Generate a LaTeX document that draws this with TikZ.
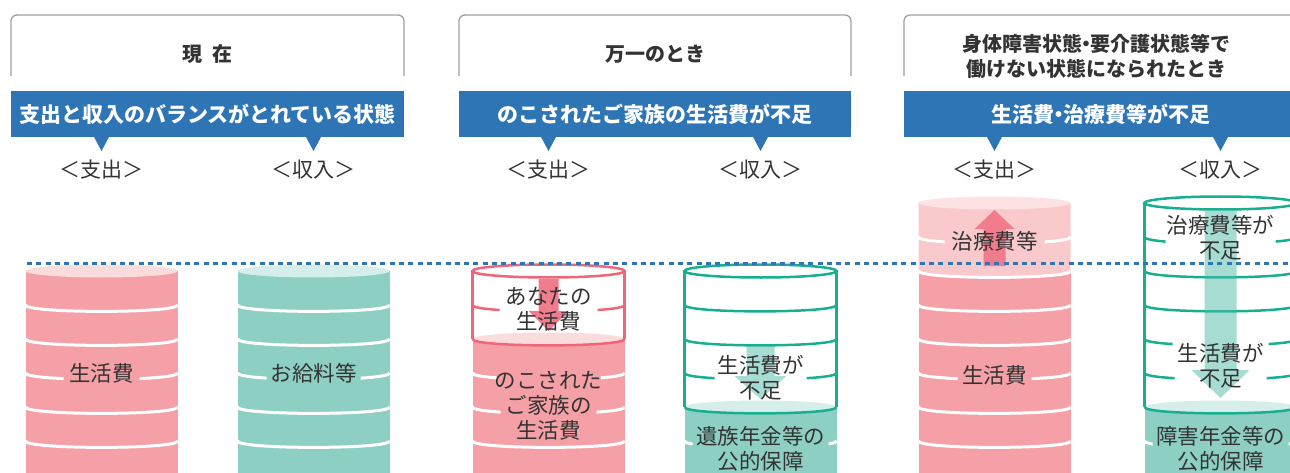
\documentclass[tikz,border=0pt]{standalone}
\usepackage{fontspec}
\setmainfont{Noto Sans CJK JP}
\definecolor{pbody}{HTML}{F5A0A6}
\definecolor{ptop}{HTML}{FADCDD}
\definecolor{plight}{HTML}{F9C9CC}
\definecolor{plighttop}{HTML}{FCE2E3}
\definecolor{pline}{HTML}{EE6677}
\definecolor{parrow}{HTML}{F07C8C}
\definecolor{tbody}{HTML}{8DD0C3}
\definecolor{ttop}{HTML}{D5EEE9}
\definecolor{tline}{HTML}{17AF90}
\definecolor{tarrow}{HTML}{4DB9A3}
\definecolor{banner}{HTML}{2E75B6}
\definecolor{hdr}{HTML}{A0A0A0}
\definecolor{txt}{HTML}{333333}
\newcommand\arcline[2]{\draw[#2] (-76,#1) .. controls (-76,#1+8.5) and (76,#1+8.5) .. (76,#1);}
\newcommand\gapline[3]{\begin{scope}\clip (-90,#1-20) rectangle (-#2,#1+20) (#2,#1-20) rectangle (90,#1+20);\arcline{#1}{#3}\end{scope}}
\newcommand\ndot{\hspace{-0.3em}・\hspace{-0.3em}}
\begin{document}
\begin{tikzpicture}[x=1pt,y=-1pt,
  hdrbox/.style={draw=hdr, line width=1.3pt, rounded corners=6pt},
  hdrtext/.style={font=\bfseries\fontsize{20}{25}\selectfont, text=txt, align=center, inner sep=0pt},
  bantext/.style={font=\bfseries\fontsize{21}{25}\selectfont, text=white, inner sep=0pt},
  lbl/.style={font=\fontsize{21}{25}\selectfont, text=txt, inner sep=0pt},
  cyltext/.style={font=\fontsize{21.5}{25}\selectfont, text=txt, align=center, inner sep=0pt},
  wline/.style={white, line width=3pt},
  pout/.style={draw=pline, line width=2.5pt},
  tout/.style={draw=tline, line width=2.5pt},
  ptr/.style={fill=banner},
  tarr/.style={fill=tarrow, fill opacity=0.5},
  parr/.style={fill=parrow}]
\useasboundingbox (0,0) rectangle (1290,473);
\clip (0,0) rectangle (1290,473);

% ---------- headers ----------
\draw[hdrbox] (11,76) -- (11,15) -- (404,15) -- (404,76);
\draw[hdrbox] (459,76) -- (459,15) -- (851,15) -- (851,76);
\draw[hdrbox] (904,76) -- (904,15) -- (1297,15) -- (1297,76);
\node[hdrtext] (h1) at (207.5,54) {現\hspace{0.5em}在};
\node[hdrtext] (h2) at (655,54) {万一のとき};
\node[hdrtext] (h3) at (1096,56.5) {身体障害状態\ndot 要介護状態等で\\働けない状態になられたとき};

% ---------- banners ----------
\fill[banner] (11,91) rectangle (404,137);
\fill[banner] (459,91) rectangle (851,137);
\fill[banner] (904,91) rectangle (1297,137);
\foreach \px in {101.5,313.5,548.5,760.5,994.5,1220.5}
  {\fill[ptr] (\px-8,136) -- (\px+8,136) -- (\px,151) -- cycle;}
\node[bantext] (b1) at (207.5,114) {支出と収入のバランスがとれている状態};
\node[bantext] (b2) at (655,114) {のこされたご家族の生活費が不足};
\node[bantext] (b3) at (1101,114) {生活費\ndot 治療費等が不足};

% ---------- labels ----------
\node[lbl] (l1) at (101.5,170) {＜支出＞};
\node[lbl] (l2) at (313.5,170) {＜収入＞};
\node[lbl] (l3) at (548.5,170) {＜支出＞};
\node[lbl] (l4) at (760.5,170) {＜収入＞};
\node[lbl] (l5) at (994.5,170) {＜支出＞};
\node[lbl] (l6) at (1220.5,170) {＜収入＞};

% ---------- panel 1 left ----------
\begin{scope}[shift={(101.5,0)}]
\fill[pbody] (-76,271) rectangle (76,480);
\fill[ptop] (0,271) ellipse [x radius=76pt, y radius=6.5pt];
\foreach \yy in {305,339,407,441} {\arcline{\yy}{wline}}
\gapline{373}{38}{wline}
\node[cyltext] (c1) at (0,373) {生活費};
\end{scope}

% ---------- panel 1 right ----------
\begin{scope}[shift={(313.5,0)}]
\fill[tbody] (-76,271) rectangle (76,480);
\fill[ttop] (0,271) ellipse [x radius=76pt, y radius=6.5pt];
\foreach \yy in {305,339,407,441} {\arcline{\yy}{wline}}
\gapline{373}{47}{wline}
\node[cyltext] (c2) at (0,373) {お給料等};
\end{scope}

% ---------- panel 2 left ----------
\begin{scope}[shift={(548.5,0)}]
\fill[pbody] (-76,339) rectangle (76,480);
\fill[ptop] (0,339) ellipse [x radius=76pt, y radius=6.5pt];
\gapline{373}{52}{wline}
\gapline{407}{48}{wline}
\arcline{441}{wline}
\gapline{305}{49}{pout}
\draw[pout] (-76,339) -- (-76,271) (76,271) -- (76,339);
\draw[pout] (0,271) ellipse [x radius=76pt, y radius=6.5pt];
\arcline{339}{pout}
\fill[parr] (-10,279) -- (10,279) -- (10,311) -- (20,311) -- (0,331) -- (-20,311) -- (-10,311) -- cycle;
\node[cyltext] (c3) at (0,309.5) {あなたの\\生活費};
\node[cyltext] (c4) at (0,405.5) {のこされた\\ご家族の\\生活費};
\end{scope}

% ---------- panel 2 right ----------
\begin{scope}[shift={(760.5,0)}]
\fill[tbody] (-76,407) rectangle (76,480);
\fill[ttop] (0,407) ellipse [x radius=76pt, y radius=6.5pt];
\gapline{441}{68}{wline}
\arcline{305}{tout}
\arcline{339}{tout}
\gapline{373}{46}{tout}
\draw[tout] (-76,407) -- (-76,271) (76,271) -- (76,407);
\draw[tout] (0,271) ellipse [x radius=76pt, y radius=6.5pt];
\arcline{407}{tout}
\fill[tarr] (-14,346) -- (14,346) -- (14,376) -- (26,376) -- (0,399) -- (-26,376) -- (-14,376) -- cycle;
\node[cyltext] (c5) at (0,377.5) {生活費が\\不足};
\node[cyltext] (c6) at (0,448.5) {遺族年金等の\\公的保障};
\end{scope}

% ---------- panel 3 left ----------
\begin{scope}[shift={(994.5,0)}]
\fill[pbody] (-76,271) rectangle (76,480);
\fill[plight] (-76,203) -- (-76,271) .. controls (-76,279.5) and (76,279.5) .. (76,271) -- (76,203) -- cycle;
\fill[plighttop] (0,203) ellipse [x radius=76pt, y radius=6.5pt];
\gapline{237}{50}{wline}
\foreach \yy in {271,305,339,407,441} {\arcline{\yy}{wline}}
\gapline{373}{37}{wline}
\fill[parr] (0,210) -- (20,229) -- (11,229) -- (11,266) -- (-11,266) -- (-11,229) -- (-20,229) -- cycle;
\node[cyltext] (c7) at (0,241) {治療費等};
\node[cyltext] (c8) at (0,375) {生活費};
\end{scope}

% ---------- panel 3 right ----------
\begin{scope}[shift={(1220.5,0)}]
\fill[tbody] (-76,407) rectangle (76,480);
\fill[ttop] (0,407) ellipse [x radius=76pt, y radius=6.5pt];
\gapline{441}{68}{wline}
\gapline{237}{55}{tout}
\arcline{271}{tout}
\arcline{305}{tout}
\gapline{339}{48}{tout}
\gapline{373}{46}{tout}
\draw[tout] (-76,407) -- (-76,203) (76,203) -- (76,407);
\draw[tout] (0,203) ellipse [x radius=76pt, y radius=6.5pt];
\arcline{407}{tout}
\fill[tarr] (-16,210) -- (16,210) -- (16,370) -- (29,370) -- (0,398) -- (-29,370) -- (-16,370) -- cycle;
\node[cyltext] (c9) at (0,237.5) {治療費等が\\不足};
\node[cyltext] (c10) at (0,365.5) {生活費が\\不足};
\node[cyltext] (c11) at (0,448.5) {障害年金等の\\公的保障};
\end{scope}

% ---------- dotted level line ----------
\coordinate (dl) at (27,263);
\coordinate (dr) at (1290,263);
\draw[banner, line width=3pt, dash pattern=on 5pt off 4.3pt] (dl) -- (dr);
\end{tikzpicture}
\end{document}
